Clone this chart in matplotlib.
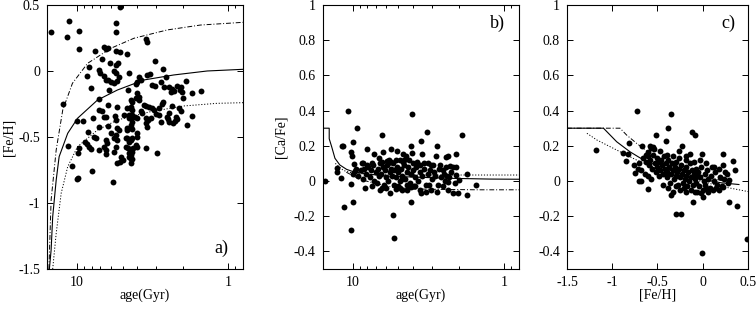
import numpy as np
import matplotlib
matplotlib.use("Agg")
import matplotlib.pyplot as plt
from matplotlib.ticker import FixedLocator, FuncFormatter, LogLocator, NullFormatter

plt.rcParams['font.family'] = ['Liberation Serif', 'DejaVu Serif']
plt.rcParams['axes.unicode_minus'] = False

# ---- panel a: age vs [Fe/H]
age_a = [14.9, 11.2, 11.7, 9.67, 5.54, 5.54, 5.22, 9.67, 7.58, 6.61,
         6.28, 6.44, 5.48, 5.22, 4.64, 8.3, 6.85, 6.04, 5.54, 5.32,
         7.13, 7.06, 8.6, 5.68, 5.54, 6.61, 6.28, 5.97, 5.68, 5.4,
         6.44, 5.27, 8.09, 6.13, 4.6, 7.13, 12.4, 4.41, 6.28, 7.13,
         6.85, 5.4, 4.64, 4.41, 6.61, 6.44, 7.88, 9.17, 10.05, 5.6,
         5.48, 4.88, 4.53, 4.3, 6.28, 7.13, 5.4, 5.27, 4.64, 4.41,
         8.5, 5.97, 7.69, 7.5, 8.82, 8.63, 6.44, 6.35, 5.54, 5.68,
         5.4, 4.76, 4.53, 4.3, 11.5, 9.75, 9.9, 8.3, 8.09, 7.13,
         6.61, 6.44, 5.54, 5.68, 4.76, 4.57, 4.35, 6.44, 5.14, 5.0,
         5.45, 5.22, 4.53, 4.41, 10.7, 8.0, 9.9, 10.05, 5.82,
         3.48, 3.43, 3.07, 2.71, 4.53, 3.89, 3.79, 3.99, 4.09, 3.43,
         3.31, 2.6, 2.8, 1.89, 3.18, 3.05, 2.66, 2.47, 2.35, 2.41,
         2.29, 2.18, 2.07, 2.1, 2.02, 1.73, 1.51, 2.0, 3.99, 3.89,
         4.05, 3.89, 4.3, 2.71, 2.76, 2.37, 3.61, 3.52, 3.35, 4.48,
         4.3, 3.18, 3.1, 2.88, 3.79, 3.74, 2.12, 2.07, 4.53, 4.3,
         4.14, 3.99, 2.99, 2.88, 2.47, 2.53, 1.73, 2.23, 2.18, 2.26,
         2.31, 3.48, 3.38, 3.26, 2.8, 2.49, 2.47, 4.35, 4.41, 3.48,
         3.43, 1.87, 4.64, 4.3, 3.99, 3.99, 4.64, 4.41, 4.53, 4.09,
         3.99, 4.26, 3.52, 2.98, 4.3, 4.41, 4.53, 4.35, 4.41]
feh_a = [0.293, 0.381, 0.255, 0.303, 0.361, 0.293, 0.487, 0.164, 0.154, 0.184,
         0.177, 0.164, 0.154, 0.146, 0.129, 0.033, 0.089, 0.058, 0.045, 0.058,
         0.008, -0.013, -0.038, 0.002, -0.017, -0.038, -0.068, -0.081, -0.089, -0.073,
         -0.068, -0.043, -0.131, -0.144, -0.144, -0.214, -0.25, -0.22, -0.258, -0.295,
         -0.301, -0.27, -0.283, -0.275, -0.346, -0.351, -0.358, -0.377, -0.377, -0.341,
         -0.371, -0.333, -0.358, -0.351, -0.417, -0.427, -0.434, -0.447, -0.447, -0.434,
         -0.46, -0.472, -0.502, -0.51, -0.536, -0.553, -0.523, -0.543, -0.485, -0.51,
         -0.523, -0.51, -0.523, -0.51, -0.566, -0.586, -0.619, -0.573, -0.593, -0.598,
         -0.573, -0.598, -0.578, -0.611, -0.573, -0.586, -0.593, -0.629, -0.649, -0.674,
         -0.695, -0.687, -0.649, -0.669, -0.717, -0.755, -0.813, -0.82, -0.838,
         0.24, 0.222, 0.076, 0.015, -0.013, -0.048, -0.068, -0.081, -0.098, -0.03,
         -0.023, -0.048, -0.081, -0.076, -0.106, -0.114, -0.123, -0.123, -0.139, -0.157,
         -0.149, -0.114, -0.123, -0.144, -0.157, -0.169, -0.152, -0.207, -0.169, -0.195,
         -0.207, -0.22, -0.233, -0.233, -0.25, -0.265, -0.258, -0.265, -0.27, -0.283,
         -0.295, -0.283, -0.295, -0.283, -0.303, -0.32, -0.283, -0.301, -0.333, -0.333,
         -0.346, -0.358, -0.328, -0.333, -0.32, -0.346, -0.341, -0.346, -0.366, -0.377,
         -0.396, -0.358, -0.371, -0.358, -0.384, -0.366, -0.384, -0.384, -0.409, -0.396,
         -0.422, -0.409, -0.434, -0.442, -0.472, -0.498, -0.51, -0.523, -0.536, -0.561,
         -0.573, -0.586, -0.581, -0.623, -0.611, -0.636, -0.623, -0.669, -0.699]

# model curves, panel a
mid_age_a = [15.2, 14.8, 14.45, 13.7, 13.1, 11.5, 9.9, 7.31, 5.4, 3.61, 2.29, 1.38, 0.79]
mid_feh_a = [-1.5, -1.356, -1.104, -0.826, -0.649, -0.472, -0.358, -0.22, -0.144, -0.068, -0.03, 0.0, 0.013]
up_age_a = [15.3, 14.8, 13.7, 12.4, 10.7, 8.5, 5.97, 4.2, 2.53, 1.53, 0.79]
up_feh_a = [-1.5, -0.977, -0.598, -0.295, -0.093, 0.058, 0.172, 0.248, 0.311, 0.348, 0.369]
lo_age_a = [14.45, 13.7, 12.7, 11.5, 9.9, 7.31, 5.4, 3.26, 1.97, 1.19, 0.79]
lo_feh_a = [-1.5, -1.23, -0.926, -0.725, -0.573, -0.447, -0.371, -0.308, -0.265, -0.245, -0.24]

# ---- panel b: age vs [Ca/Fe]
age_b = [10.7, 4.03, 9.33, 6.44, 3.23, 1.89, 9.9, 3.52, 11.8, 4.15,
         2.77, 8.09, 10.2, 10.1, 6.35, 5.62, 5.06, 7.24, 4.65, 4.46,
         4.03, 3.48, 2.8, 2.43, 2.35, 2.07, 6.68, 8.73, 8.51, 8.09,
         7.5, 5.97, 5.83, 5.54, 5.19, 4.89, 4.65, 4.24, 3.99, 3.61,
         3.4, 3.18, 2.95, 2.41, 2.27, 2.18, 2.09, 12.7, 9.66, 9.9,
         15.2, 12.0, 10.3, 8.6, 8.3, 6.61, 6.44, 5.68, 5.14, 4.69,
         4.41, 4.09, 4.13, 3.61, 3.52, 3.26, 3.02, 2.77, 2.35, 2.18,
         2.02, 1.76, 1.53, 1.75, 2.07, 1.99, 2.12, 2.35, 9.9, 11.4,
         5.41, 10.3, 5.35, 11.5, 9.75, 12.7,
         7.9, 7.6, 7.3, 7.0, 6.8, 6.6, 6.5, 6.3, 6.1, 6.0,
         5.9, 5.7, 5.6, 5.5, 5.4, 5.3, 5.2, 5.1, 5.0, 4.9,
         4.8, 4.7, 4.6, 4.5, 4.4, 4.3, 4.2, 4.1, 4.0, 3.9,
         3.8, 3.7, 3.6, 3.5, 3.4, 3.3, 3.2, 3.1, 3.0, 2.9,
         2.85, 2.7, 2.6, 2.5, 2.45, 7.7, 7.2, 6.9, 6.7, 6.2,
         5.8, 5.35, 5.0, 4.75, 4.35, 3.95, 8.2, 8.4, 8.8, 9.2,
         9.5, 6.4, 5.75, 4.55, 3.75, 3.05, 2.65, 2.55, 2.38, 2.3,
         2.25, 7.4, 6.05, 4.85, 3.85, 3.15, 2.75, 2.55]
cafe_b = [0.4, 0.379, 0.3, 0.261, 0.28, 0.261, 0.22, 0.229, 0.199, 0.199,
          0.199, 0.18, 0.163, 0.144, 0.167, 0.18, 0.17, 0.152, 0.153, 0.142,
          0.161, 0.152, 0.142, 0.135, 0.142, 0.152, 0.129, 0.1, 0.104, 0.091,
          0.104, 0.115, 0.1, 0.11, 0.119, 0.119, 0.11, 0.119, 0.1, 0.091,
          0.104, 0.1, 0.091, 0.081, 0.085, 0.081, 0.078, 0.053, 0.059, 0.04,
          0.002, 0.019, -0.017, 0.01, -0.038, -0.051, -0.042, -0.066, -0.047, -0.051,
          -0.051, -0.036, -0.118, -0.051, -0.066, -0.061, -0.051, -0.061, -0.051, -0.066,
          -0.07, -0.08, -0.023, 0.04, 0.034, 0.006, -0.01, -0.004, -0.118, -0.146,
          -0.193, -0.278, -0.326, 0.2, 0.097, 0.072,
          0.08, 0.06, 0.09, 0.05, 0.07, 0.1, 0.04, 0.08, 0.06, 0.02,
          0.09, 0.05, 0.07, 0.03, 0.1, 0.06, 0.02, 0.08, 0.05, 0.0,
          0.07, 0.03, 0.09, 0.01, 0.05, 0.08, -0.01, 0.04, 0.06, 0.02,
          0.08, 0.0, 0.05, 0.03, 0.07, -0.02, 0.04, 0.06, 0.01, 0.05,
          0.03, 0.07, 0.02, 0.04, 0.0, 0.02, 0.0, -0.01, 0.03, -0.02,
          0.0, -0.02, -0.03, 0.01, -0.02, -0.03, 0.04, 0.07, 0.06, 0.03,
          0.07, 0.11, 0.12, 0.12, 0.11, 0.09, 0.09, 0.06, 0.03, 0.02,
          0.05, -0.03, -0.04, -0.04, -0.03, -0.02, -0.02, -0.03]

mid_age_b = [15.75, 14.26, 14.26, 13.74, 13.07, 12.13, 10.95, 9.91, 8.09, 5.97, 3.61, 2.19, 1.25, 0.8]
mid_cafe_b = [0.3, 0.3, 0.24, 0.195, 0.129, 0.091, 0.066, 0.053, 0.04, 0.028, 0.021, 0.015, 0.011, 0.01]
up_age_b = [13.0, 11.5, 10.0, 8.0, 6.0, 4.0, 2.0, 0.8]
up_cafe_b = [0.1, 0.06, 0.045, 0.038, 0.035, 0.034, 0.034, 0.034]
lo_age_b = [11.0, 9.0, 7.0, 5.5, 4.0, 2.5, 1.5, 0.8]
lo_cafe_b = [0.05, 0.01, -0.015, -0.035, -0.045, -0.048, -0.05, -0.05]

# ---- panel c: [Fe/H] vs [Ca/Fe]
feh_c = [-0.725, -0.347, -0.385, -0.117, -0.091, -0.52, -0.402, -0.813, -0.666, -0.234,
         -0.586, -0.567, -0.549, -0.264, -0.886, -0.825, -0.603, -0.622, -0.19, -0.139,
         -0.007, 0.22, -0.851, 0.33, -0.762, 0.36, 0.129, 0.249, -0.703, -0.677,
         -0.604, -0.347, -0.33, -0.256, -0.183, -0.091, -0.11, 0.0, -0.018, 0.037,
         0.055, 0.11, 0.147, 0.183, 0.229, 0.276, 0.293, 0.293, 0.374, -0.3,
         -0.237, 0.484, -0.007, -1.178, -0.75,
         -0.66, -0.63, -0.61, -0.59, -0.58, -0.56, -0.55, -0.53, -0.52, -0.51,
         -0.5, -0.49, -0.48, -0.47, -0.46, -0.45, -0.44, -0.43, -0.42, -0.41,
         -0.4, -0.39, -0.38, -0.37, -0.36, -0.35, -0.34, -0.33, -0.32, -0.31,
         -0.3, -0.29, -0.28, -0.27, -0.26, -0.25, -0.24, -0.23, -0.22, -0.21,
         -0.2, -0.19, -0.18, -0.17, -0.16, -0.15, -0.14, -0.13, -0.12, -0.11,
         -0.1, -0.09, -0.08, -0.07, -0.06, -0.05, -0.04, -0.03, -0.02, 0.01,
         0.02, 0.03, 0.05, 0.06, 0.08, 0.09, 0.12, 0.14, 0.16, 0.19,
         0.21, 0.24, 0.27, -0.7, -0.68, -0.64, -0.6, -0.57, -0.54, -0.47,
         -0.39, -0.33, -0.26, -0.18, -0.1, -0.03, 0.04, -0.44, -0.38, -0.3,
         -0.21, -0.13, -0.06, 0.1, 0.18, 0.0, 0.22, -0.72]
cafe_c = [0.4, 0.381, 0.299, 0.28, 0.261, 0.261, 0.229, 0.218, 0.199, 0.199,
          0.199, 0.186, 0.195, 0.172, 0.161, 0.153, 0.166, 0.148, 0.142, 0.153,
          0.152, 0.152, 0.114, 0.114, 0.091, 0.0625, 0.081, 0.053, 0.002, 0.0,
          -0.047, -0.08, -0.061, -0.051, -0.061, -0.061, -0.118, -0.089, -0.07, -0.042,
          -0.061, -0.051, -0.042, -0.051, -0.036, -0.01, 0.006, -0.118, -0.142, -0.189,
          -0.189, -0.331, -0.411, 0.176, 0.047,
          0.13, 0.11, 0.14, 0.09, 0.12, 0.07, 0.15, 0.1, 0.05, 0.13,
          0.08, 0.11, 0.03, 0.06, 0.12, 0.09, 0.04, 0.14, 0.07, 0.1,
          0.02, 0.05, 0.12, 0.08, -0.01, 0.04, 0.1, 0.06, 0.01, 0.08,
          0.03, 0.11, 0.05, -0.02, 0.07, 0.02, 0.09, 0.04, -0.01, 0.06,
          0.01, 0.08, 0.03, -0.03, 0.05, 0.0, 0.1, 0.02, 0.06, -0.02,
          0.04, 0.01, 0.07, -0.01, 0.03, 0.05, -0.03, 0.02, 0.08, 0.0,
          0.04, -0.02, 0.06, 0.01, -0.04, 0.03, 0.0, 0.05, -0.02, 0.02,
          -0.03, 0.01, 0.04, 0.1, 0.06, 0.04, 0.03, 0.01, 0.18, 0.17,
          0.15, 0.14, 0.13, 0.12, 0.11, 0.12, 0.1, -0.02, -0.04, -0.03,
          -0.04, -0.05, -0.06, 0.08, 0.07, -0.05, 0.09, 0.07]

mid_feh_c = [-1.5, -1.097, -0.951, -0.804, -0.695, -0.5, -0.25, 0.0, 0.2, 0.4]
mid_cafe_c = [0.3, 0.3, 0.223, 0.166, 0.132, 0.085, 0.04, 0.01, -0.01, -0.02]
up_feh_c = [-1.5, -0.914, -0.841, -0.731, -0.658, -0.5, -0.25, 0.0, 0.3]
up_cafe_c = [0.3, 0.3, 0.261, 0.214, 0.186, 0.12, 0.07, 0.03, -0.01]
lo_feh_c = [-1.28, -1.17, -1.024, -0.878, -0.731, -0.5, -0.25, 0.0, 0.25, 0.5]
lo_cafe_c = [0.271, 0.233, 0.195, 0.157, 0.119, 0.07, 0.03, -0.005, -0.035, -0.06]

fmt = FuncFormatter(lambda v, _: f"{v:g}")
dashdot = (0, (5, 2, 1, 2))
dotted = (0, (1.2, 1.8))

fig = plt.figure(figsize=(7.56, 3.11), dpi=100)
ax_a = fig.add_axes([0.0622, 0.135, 0.2593, 0.849])
ax_b = fig.add_axes([0.4268, 0.135, 0.2597, 0.849])
ax_c = fig.add_axes([0.75, 0.135, 0.2394, 0.849])


def style(ax):
    ax.tick_params(which='both', direction='in', top=True, right=True,
                   labelsize=10, width=0.7, pad=5)
    ax.tick_params(which='major', length=4)
    ax.tick_params(which='minor', length=2.5)
    for s in ax.spines.values():
        s.set_linewidth(0.8)
    ax.yaxis.set_major_formatter(fmt)


def age_axis(ax):
    ax.set_xscale('log')
    ax.set_xlim(15.75, 0.8)
    ax.xaxis.set_major_locator(FixedLocator([1, 10]))
    ax.xaxis.set_major_formatter(fmt)
    ax.xaxis.set_minor_locator(LogLocator(subs=np.arange(2, 10)))
    ax.xaxis.set_minor_formatter(NullFormatter())
    ax.set_xlabel('age(Gyr)', fontsize=10)
    ax.xaxis.set_label_coords(0.5, -0.075)


# a
ax_a.scatter(age_a, feh_a, s=18, c='black', linewidths=0, zorder=3)
ax_a.plot(mid_age_a, mid_feh_a, color='black', lw=0.8)
ax_a.plot(up_age_a, up_feh_a, color='black', lw=0.7, linestyle=dashdot)
ax_a.plot(lo_age_a, lo_feh_a, color='black', lw=0.7, linestyle=dotted)
age_axis(ax_a)
ax_a.set_ylim(-1.5, 0.5)
ax_a.set_yticks([-1.5, -1, -0.5, 0, 0.5])
ax_a.set_ylabel('[Fe/H]', fontsize=10)
ax_a.yaxis.set_label_coords(-0.16, 0.5)
style(ax_a)
ax_a.text(0.89, 0.08, 'a)', transform=ax_a.transAxes, fontsize=13, ha='center', va='center')

# b
ax_b.scatter(age_b, cafe_b, s=18, c='black', linewidths=0, zorder=3)
ax_b.plot(mid_age_b, mid_cafe_b, color='black', lw=0.8)
ax_b.plot(up_age_b, up_cafe_b, color='black', lw=0.7, linestyle=dotted)
ax_b.plot(lo_age_b, lo_cafe_b, color='black', lw=0.7, linestyle=dashdot)
age_axis(ax_b)
ax_b.set_ylim(-0.5, 1)
ax_b.set_yticks([-0.4, -0.2, 0, 0.2, 0.4, 0.6, 0.8, 1])
ax_b.set_ylabel('[Ca/Fe]', fontsize=10)
ax_b.yaxis.set_label_coords(-0.179, 0.5)
style(ax_b)
ax_b.text(0.89, 0.93, 'b)', transform=ax_b.transAxes, fontsize=13, ha='center', va='center')

# c
ax_c.scatter(feh_c, cafe_c, s=18, c='black', linewidths=0, zorder=3)
ax_c.plot(mid_feh_c, mid_cafe_c, color='black', lw=0.8)
ax_c.plot(up_feh_c, up_cafe_c, color='black', lw=0.7, linestyle=dashdot)
ax_c.plot(lo_feh_c, lo_cafe_c, color='black', lw=0.7, linestyle=dotted)
ax_c.set_xlim(-1.5, 0.5)
ax_c.set_ylim(-0.5, 1)
ax_c.set_xticks([-1.5, -1, -0.5, 0, 0.5])
ax_c.xaxis.set_major_formatter(fmt)
ax_c.set_yticks([-0.4, -0.2, 0, 0.2, 0.4, 0.6, 0.8, 1])
ax_c.set_xlabel('[Fe/H]', fontsize=10)
ax_c.xaxis.set_label_coords(0.5, -0.075)
style(ax_c)
ax_c.text(0.89, 0.93, 'c)', transform=ax_c.transAxes, fontsize=13, ha='center', va='center')

fig.savefig('out.png', dpi=100)
